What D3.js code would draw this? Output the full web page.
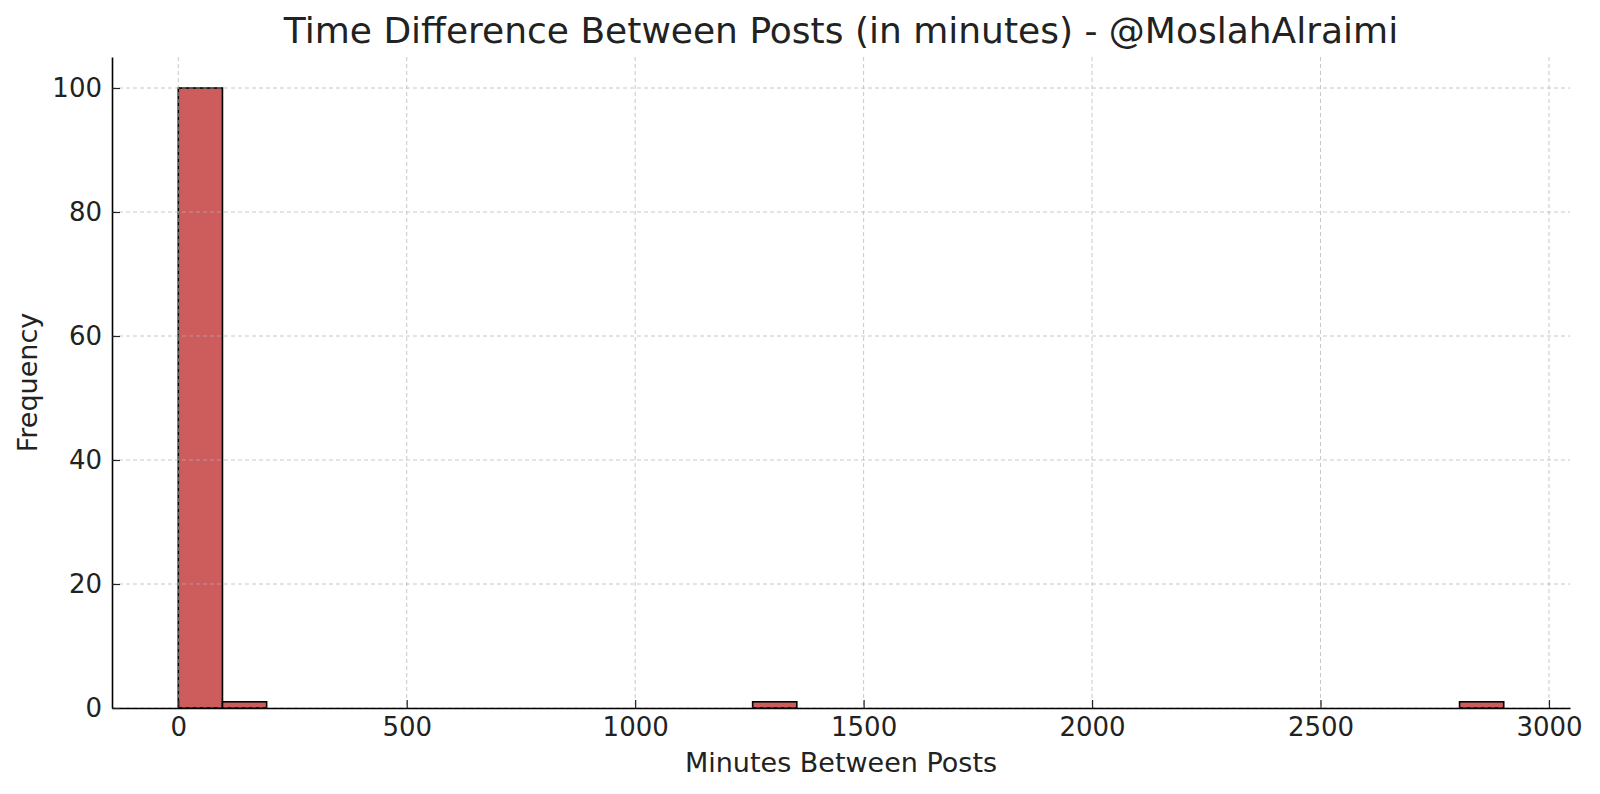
<!DOCTYPE html>
<html><head><meta charset="utf-8">
<script src="https://cdn.jsdelivr.net/npm/d3@7"></script>
<style>body{margin:0;background:#fff;} text{font-family:"DejaVu Sans",sans-serif;}</style>
</head><body><svg id="c" width="1600" height="794"></svg>
<script>
// Histogram data: 30 equal bins between binMin and binMax
const binMin = 0;
const binMax = 2901;
const binCounts = [100,1,0,0,0,0,0,0,0,0,0,0,0,1,0,0,0,0,0,0,0,0,0,0,0,0,0,0,0,1];
const xTicks = [0,500,1000,1500,2000,2500,3000];
const yTicks = [0,20,40,60,80,100];
const title = "Time Difference Between Posts (in minutes) - @MoslahAlraimi";
const xLabel = "Minutes Between Posts";
const yLabel = "Frequency";

const svg = d3.select("#c");
const m = {l:112, r:1570, t:57, b:708};
const bw = (binMax-binMin)/binCounts.length;
const bins = binCounts.map((c,i)=>({x0:binMin+i*bw, x1:binMin+(i+1)*bw, c}));
const pad = (binMax-binMin)*0.05;
const x = d3.scaleLinear().domain([binMin-pad, binMax+pad]).range([m.l, m.r]);
const y = d3.scaleLinear().domain([0, 105]).range([m.b, m.t]);
const textCol = "#222";

// bars
svg.append("g").selectAll("rect").data(bins.filter(d=>d.c>0)).join("rect")
  .attr("x", d=>x(d.x0)).attr("width", d=>x(d.x1)-x(d.x0))
  .attr("y", d=>y(d.c)).attr("height", d=>y(0)-y(d.c))
  .attr("fill","#cd5c5c").attr("stroke","#000").attr("stroke-width",1.6);

// grid
const grid = svg.append("g").attr("stroke","#b0b0b0").attr("stroke-opacity",0.7).attr("stroke-width",1).attr("stroke-dasharray","4,3");
grid.selectAll(".gx").data(xTicks).join("line").attr("x1",d=>x(d)).attr("x2",d=>x(d)).attr("y1",m.t).attr("y2",m.b);
grid.selectAll(".gy").data(yTicks).join("line").attr("x1",m.l).attr("x2",m.r).attr("y1",d=>y(d)).attr("y2",d=>y(d));

// axes (ticks pointing inward)
const xa = svg.append("g").attr("transform",`translate(0,${m.b})`)
  .call(d3.axisBottom(x).tickValues(xTicks).tickFormat(d3.format("d")).tickSize(-8).tickPadding(10).tickSizeOuter(0));
const ya = svg.append("g").attr("transform",`translate(${m.l},0)`)
  .call(d3.axisLeft(y).tickValues(yTicks).tickFormat(d3.format("d")).tickSize(-8).tickPadding(10).tickSizeOuter(0));
[xa,ya].forEach(a=>{
  a.select(".domain").attr("stroke","#000").attr("stroke-width",1.6);
  a.selectAll(".tick line").attr("stroke","#222").attr("stroke-width",1.2);
  a.selectAll(".tick text").attr("fill",textCol).style("font-size","26px").style("font-family","DejaVu Sans");
});

svg.append("text").attr("x",(m.l+m.r)/2).attr("y",43).attr("text-anchor","middle")
  .attr("fill",textCol).style("font-size","36px").text(title);
svg.append("text").attr("x",(m.l+m.r)/2).attr("y",772).attr("text-anchor","middle")
  .attr("fill",textCol).style("font-size","27px").text(xLabel);
svg.append("text").attr("transform",`translate(37,${(m.t+m.b)/2}) rotate(-90)`).attr("text-anchor","middle")
  .attr("fill",textCol).style("font-size","27px").text(yLabel);
</script></body></html>
